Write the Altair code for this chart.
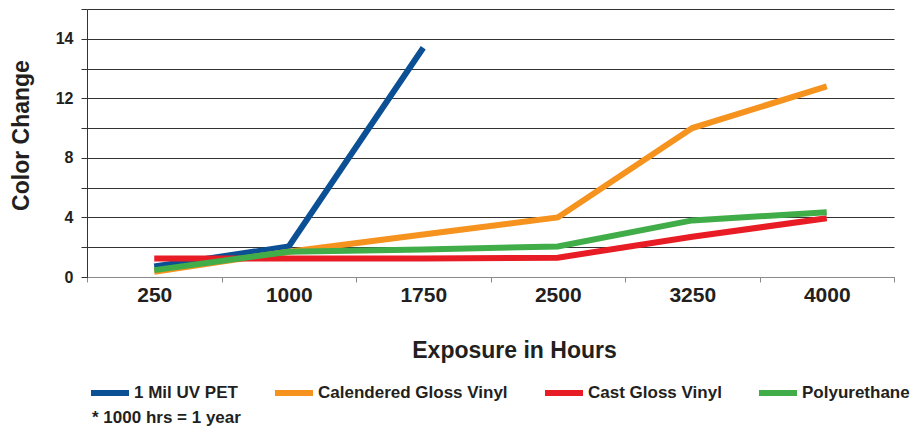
import altair as alt
import pandas as pd

# ---- data ----
hours = ["250", "1000", "1750", "2500", "3250", "4000"]
series = ["1 Mil UV PET", "Calendered Gloss Vinyl", "Cast Gloss Vinyl", "Polyurethane"]
colors = ["#0b4f94", "#f6921e", "#e81c24", "#41ad49"]

pet = [0.7, 2.05, 15.4]                       # stops at 1750 hrs
calendered = [0.35, 1.7, 2.85, 4.0, 10.0, 12.8]
cast = [1.25, 1.25, 1.25, 1.3, 2.7, 3.95]
poly = [0.46, 1.7, 1.85, 2.05, 3.8, 4.35]

y_grid = [0, 2, 4, 6, 8, 10, 12, 14, 16, 18]
y_label_at = [0, 4, 8, 12, 16]
y_label_text = ["0", "4", "8", "12", "14"]

footnote = "* 1000 hrs = 1 year"

rows = []
for name, vals in zip(series, [pet, calendered, cast, poly]):
    for h, v in zip(hours, vals):
        rows.append({"hours": h, "series": name, "value": v})
df = pd.DataFrame(rows)

# label expression for the y axis
expr = "''"
for v, t in zip(reversed(y_label_at), reversed(y_label_text)):
    expr = f"datum.value == {v} ? '{t}' : ({expr})"

FONT = "Liberation Sans, Arial, Helvetica, sans-serif"
TXT = "#231f20"

chart = (
    alt.Chart(df)
    .mark_line(strokeWidth=6, strokeJoin="miter", strokeCap="butt")
    .encode(
        x=alt.X(
            "hours:N",
            bandPosition=0.5,
            scale=alt.Scale(type="band", domain=hours, paddingInner=0, paddingOuter=0),
            sort=hours,
            axis=alt.Axis(
                title="Exposure in Hours",
                labelAngle=0,
                tickBand="extent",
                grid=False,
                domainColor="#8a8a8a",
                tickColor="#8a8a8a",
                tickSize=5,
                labelFontSize=21,
                labelFontWeight="bold",
                labelPadding=2,
                labelColor=TXT,
                titleFontSize=23,
                titleFontWeight="bold",
                titleColor=TXT,
                titleX=427,
                titleY=80,
                titleBaseline="alphabetic",
                titleAlign="center",
            ),
        ),
        y=alt.Y(
            "value:Q",
            scale=alt.Scale(domain=[0, 18], nice=False, zero=True),
            axis=alt.Axis(
                title="Color Change",
                values=y_grid,
                labelExpr=expr,
                grid=True,
                gridColor="#333333",
                gridWidth=1,
                domainColor="#333333",
                tickColor="#333333",
                tickSize=6,
                labelPadding=8,
                labelFontSize=16,
                labelFontWeight="bold",
                labelColor=TXT,
                titleFontSize=23,
                titleFontWeight="bold",
                titleColor=TXT,
                titleX=-59,
                titleY=126,
                titleBaseline="alphabetic",
                titleAlign="center",
            ),
        ),
        color=alt.Color(
            "series:N",
            scale=alt.Scale(domain=series, range=colors),
            legend=alt.Legend(
                title=None,
                orient="none",
                legendX=1,
                legendY=362,
                direction="horizontal",
                columns=4,
                symbolType="stroke",
                symbolSize=1444,
                symbolStrokeWidth=6,
                labelFontSize=17,
                labelFontWeight="bold",
                labelColor=TXT,
                labelOffset=2,
                labelLimit=0,
                columnPadding=25,
            ),
        ),
        order=alt.Order("hours_idx:Q"),
    )
    .transform_calculate(hours_idx="indexof(" + str(hours) + ", datum.hours)")
    .properties(
        width=807,
        height=268,
        padding={"left": 79, "top": 1, "right": 16, "bottom": 149},
        autosize=alt.AutoSizeParams(type="none"),
        title=alt.TitleParams(
            text=footnote,
            orient="bottom",
            anchor="start",
            frame="group",
            fontSize=17,
            fontWeight="bold",
            color=TXT,
            dx=5,
            offset=5,
        ),
    )
    .configure(font=FONT)
    .configure_view(stroke=None)
)

chart.save("out.html", embed_options={"renderer": "svg", "actions": False})
